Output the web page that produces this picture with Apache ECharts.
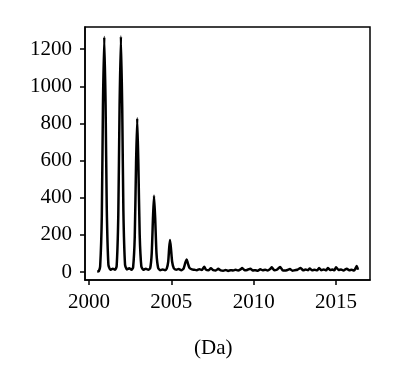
<!DOCTYPE html>
<html>
<head>
<meta charset="utf-8">
<script src="https://cdn.jsdelivr.net/npm/echarts@6/dist/echarts.min.js"></script>
<style>html,body{margin:0;padding:0;background:#fff;}#c{width:398px;height:386px;}</style>
</head>
<body>
<div id="c"></div>
<script>
// m/z (Da) and intensity
var mz = [
  2000.50, 2000.60, 2000.68, 2000.78, 2000.85, 2000.93, 2001.01, 2001.08, 2001.18, 2001.30,
  2001.45, 2001.58, 2001.68, 2001.78, 2001.86, 2001.94, 2002.02, 2002.09, 2002.19, 2002.30,
  2002.45, 2002.58, 2002.68, 2002.78, 2002.86, 2002.93, 2003.00, 2003.08, 2003.18, 2003.30,
  2003.45, 2003.60, 2003.72, 2003.81, 2003.89, 2003.95, 2004.02, 2004.10, 2004.20, 2004.32,
  2004.48, 2004.62, 2004.72, 2004.81, 2004.87, 2004.92, 2004.98, 2005.05, 2005.15, 2005.30,
  2005.45, 2005.60, 2005.75, 2005.85, 2005.93, 2006.00, 2006.10, 2006.25, 2006.40,
  2006.55, 2006.70, 2006.85, 2007.00, 2007.10, 2007.25, 2007.40, 2007.55, 2007.70, 2007.85,
  2008.00, 2008.15, 2008.30, 2008.45, 2008.60, 2008.75, 2008.90, 2009.05, 2009.20, 2009.30,
  2009.45, 2009.60, 2009.80, 2009.95, 2010.10, 2010.25, 2010.40, 2010.55, 2010.70, 2010.85,
  2011.00, 2011.10, 2011.25, 2011.40, 2011.60, 2011.75, 2011.90, 2012.05, 2012.20, 2012.35,
  2012.50, 2012.65, 2012.85, 2013.00, 2013.15, 2013.30, 2013.40, 2013.55, 2013.70, 2013.85,
  2013.97, 2014.10, 2014.25, 2014.40, 2014.50, 2014.65, 2014.80, 2014.90, 2015.00, 2015.15,
  2015.30, 2015.45, 2015.65, 2015.80, 2015.95, 2016.10, 2016.25, 2016.33
];
var intensity = [
  3, 5, 30, 300, 900, 1265, 900, 350, 40, 12,
  18, 12, 30, 300, 900, 1268, 880, 330, 40, 14,
  20, 12, 25, 190, 590, 828, 580, 200, 30, 12,
  18, 12, 22, 100, 300, 411, 290, 100, 22, 10,
  14, 10, 18, 55, 130, 172, 125, 55, 20, 12,
  16, 10, 20, 50, 68, 48, 22, 14, 12,
  10, 15, 11, 28, 13, 9, 20, 10, 8, 17,
  9, 7, 11, 6, 10, 8, 12, 8, 14, 22,
  9, 11, 18, 8, 10, 7, 15, 9, 12, 8,
  16, 25, 9, 12, 27, 10, 8, 11, 16, 7,
  10, 12, 22, 9, 13, 10, 19, 9, 12, 9,
  22, 10, 14, 9, 22, 11, 13, 9, 26, 11,
  14, 8, 18, 9, 12, 8, 32, 12
];
var xTicks = [2000, 2005, 2010, 2015];
var yTicks = [0, 200, 400, 600, 800, 1000, 1200];
var xLabel = '(Da)';

var data = mz.map(function (m, i) { return [m, intensity[i]]; });
var font = 'Liberation Serif';
var chart = echarts.init(document.getElementById('c'), null, { renderer: 'canvas' });
chart.setOption({
  animation: false,
  backgroundColor: '#fff',
  grid: { left: 85, right: 28, top: 27, bottom: 106, show: true, borderColor: '#000', borderWidth: 1.5, backgroundColor: 'transparent' },
  xAxis: {
    type: 'value', min: 1999.76, max: 2017.06,
    axisLine: { onZero: false, lineStyle: { color: '#000', width: 1.5 } },
    axisTick: { show: true, length: 5, lineStyle: { color: '#000', width: 1.5 }, customValues: xTicks },
    axisLabel: { customValues: xTicks, color: '#000', fontFamily: font, fontSize: 21, margin: 12,
      formatter: function (v) { return String(v); } },
    splitLine: { show: false }
  },
  yAxis: {
    type: 'value', min: -43, max: 1319,
    axisLine: { show: true, lineStyle: { color: '#000', width: 1.5 } },
    axisTick: { show: true, length: 5, lineStyle: { color: '#000', width: 1.5 }, customValues: yTicks },
    axisLabel: { customValues: yTicks, color: '#000', fontFamily: font, fontSize: 21, margin: 13,
      formatter: function (v) { return String(v); } },
    splitLine: { show: false }
  },
  graphic: [{
    type: 'text', left: 194, top: 338,
    style: { text: xLabel, fill: '#000', font: '21px "Liberation Serif"' }
  }],
  series: [{
    type: 'line', data: data, showSymbol: false, smooth: 0.2,
    lineStyle: { color: '#000', width: 2.5 }
  }]
});
</script>
</body>
</html>
